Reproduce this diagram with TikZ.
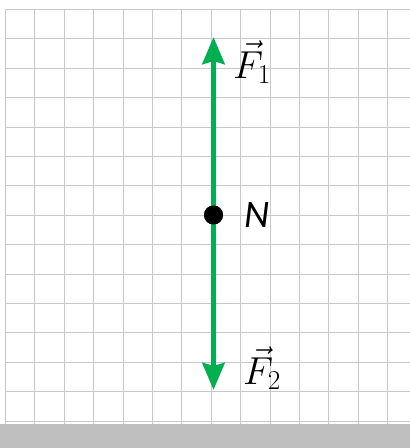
\RequirePackage{fix-cm}
\documentclass[tikz,border=0pt]{standalone}
\usepackage{fontspec}
\newfontfamily\labelfont{Carlito}
\usetikzlibrary{arrows.meta}
\definecolor{gridgray}{HTML}{C8C8C8}
\definecolor{floorgray}{HTML}{BFBFBF}
\definecolor{forcegreen}{HTML}{00B050}
\tikzset{
  gridline/.style={draw=gridgray, line width=1.3pt},
  force/.style={draw=forcegreen, line width=5.5pt,
    -{Stealth[length=27pt, width=22pt, inset=3pt]}},
  vlabel/.style={anchor=base west, inner sep=0pt, font=\fontsize{39}{40}\selectfont},
  nlabel/.style={anchor=base west, inner sep=0pt, font=\labelfont\itshape\fontsize{39}{40}\selectfont},
}
\begin{document}
\begin{tikzpicture}[x=1pt, y=-1pt]
\useasboundingbox (0,0) rectangle (410,448);
\fill[white] (0,0) rectangle (410,448);
% grid
\foreach \k in {0,...,13} {
  \draw[gridline] ({round(6+29.4*\k)-0.5},9) -- ({round(6+29.4*\k)-0.5},424);
}
\foreach \k in {0,...,14} {
  \draw[gridline] (5,{round(9+29.4*\k)+0.5}) -- (410,{round(9+29.4*\k)+0.5});
}
% floor
\fill[floorgray] (0,423.5) rectangle (410,448);
% forces
\coordinate (top) at (213.5,37);
\coordinate (bottom) at (213.5,390);
\node[circle, fill=black, minimum size=19pt, inner sep=0pt] (N) at (213.5,215) {};
\draw[force] (N.center) -- (top);
\draw[force] (N.center) -- (bottom);
\node[circle, fill=black, minimum size=19pt, inner sep=0pt] at (N) {};
% labels
\node[vlabel] (f1) at (233,78) {$\vec{F}_{1}$};
\node[vlabel] (f2) at (243,384) {$\vec{F}_{2}$};
\node[nlabel] (nl) at (244,227) {N};
\end{tikzpicture}
\end{document}
